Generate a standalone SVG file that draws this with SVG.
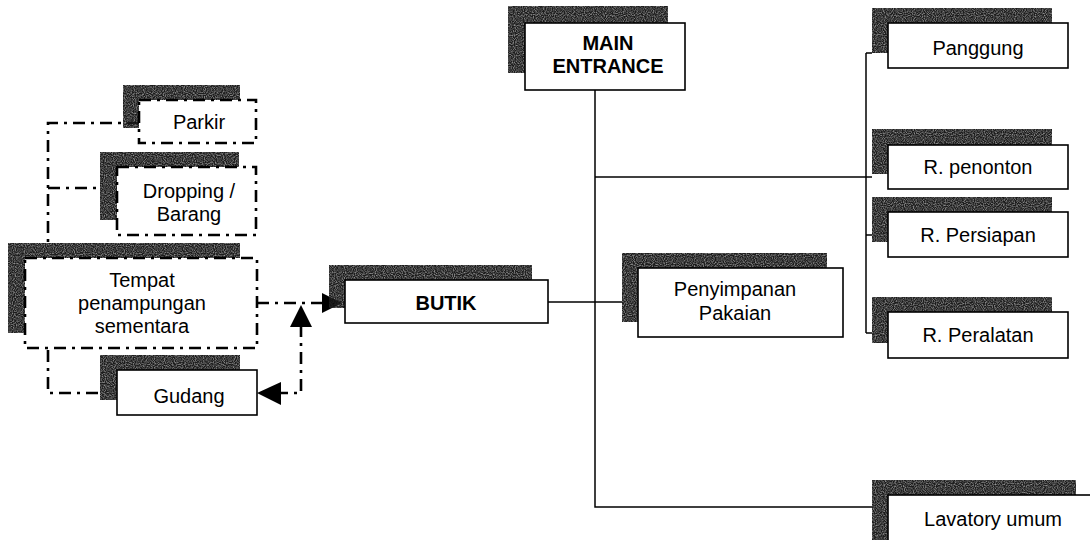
<svg xmlns="http://www.w3.org/2000/svg" width="1090" height="540" viewBox="0 0 1090 540">
<defs>
<filter id="grain" x="0" y="0" width="100%" height="100%">
<feTurbulence type="fractalNoise" baseFrequency="0.9" numOctaves="1" seed="3" result="n"/>
<feColorMatrix in="n" type="matrix" values="0 0 0 0 0  0 0 0 0 0  0 0 0 0 0  0 0 0 -1.2 1.45" result="a"/>
<feComposite in="SourceGraphic" in2="a" operator="in"/>
</filter>
</defs>
<style>
.sh{fill:#1c1c1c;filter:url(#grain)}
.bx{fill:#fff;stroke:#000;stroke-width:1.6}
.dbx{fill:#fff;stroke:#000;stroke-width:2.6;stroke-dasharray:12 6 3 6}
.t{font-family:"Liberation Sans",Arial,sans-serif;font-size:20px;fill:#000;text-anchor:middle}
.b{font-weight:bold}
.ln{fill:none;stroke:#000;stroke-width:1.5}
.dl{fill:none;stroke:#000;stroke-width:2.6;stroke-dasharray:12 6 3 6}
.ah{fill:#000}
</style>
<g id="connectors">
<path class="dl" d="M139,123 H48 V245"/>
<path class="dl" d="M48,188 H100"/>
<path class="dl" d="M48,350 V393 H100"/>
<path class="dl" d="M257,303 H322"/>
<path class="dl" d="M301,325 V393 H279"/>
<polygon class="ah" points="322,293 342,303 322,313"/>
<polygon class="ah" points="301,305 312,327 290,327"/>
<polygon class="ah" points="257,393 281,382 281,405"/>
<path class="ln" d="M548,302 H622"/>
<path class="ln" d="M595,90 V507 H872"/>
<path class="ln" d="M595,177 H872"/>
<path class="ln" d="M866,53 V333"/>
<path class="ln" d="M866,53 H872 M866,235 H872 M866,333 H872"/>
</g>
<g id="parkir">
<rect class="sh" x="123" y="85" width="117" height="43"/>
<rect class="dbx" x="139" y="100" width="117" height="43"/>
<text class="t" x="199" y="129">Parkir</text>
</g>
<g id="dropping">
<rect class="sh" x="100" y="152" width="139" height="68"/>
<rect class="dbx" x="117" y="167" width="139" height="68"/>
<text class="t" x="189" y="198">Dropping /</text>
<text class="t" x="189" y="221">Barang</text>
</g>
<g id="tempat">
<rect class="sh" x="8" y="243" width="232" height="90"/>
<rect class="dbx" x="25" y="258" width="232" height="90"/>
<text class="t" x="142" y="287">Tempat</text>
<text class="t" x="142" y="310">penampungan</text>
<text class="t" x="142" y="333">sementara</text>
</g>
<g id="gudang">
<rect class="sh" x="100" y="355" width="140" height="45"/>
<rect class="bx" x="117" y="370" width="140" height="45"/>
<text class="t" x="189" y="403">Gudang</text>
</g>
<g id="butik">
<rect class="sh" x="329" y="265" width="203" height="43"/>
<rect class="bx" x="345" y="280" width="203" height="43"/>
<text class="t b" x="446" y="310">BUTIK</text>
</g>
<g id="main-entrance">
<rect class="sh" x="508" y="6" width="160" height="67"/>
<rect class="bx" x="525" y="23" width="160" height="67"/>
<text class="t b" x="608" y="50">MAIN</text>
<text class="t b" x="608" y="73">ENTRANCE</text>
</g>
<g id="penyimpanan">
<rect class="sh" x="622" y="253" width="205" height="69"/>
<rect class="bx" x="638" y="268" width="205" height="69"/>
<text class="t" x="735" y="296">Penyimpanan</text>
<text class="t" x="735" y="320">Pakaian</text>
</g>
<g id="panggung">
<rect class="sh" x="872" y="8" width="180" height="45"/>
<rect class="bx" x="888" y="23" width="180" height="45"/>
<text class="t" x="978" y="55">Panggung</text>
</g>
<g id="penonton">
<rect class="sh" x="872" y="129" width="180" height="45"/>
<rect class="bx" x="888" y="145" width="180" height="44"/>
<text class="t" x="978" y="174">R. penonton</text>
</g>
<g id="persiapan">
<rect class="sh" x="872" y="197" width="180" height="45"/>
<rect class="bx" x="888" y="212" width="180" height="45"/>
<text class="t" x="978" y="242">R. Persiapan</text>
</g>
<g id="peralatan">
<rect class="sh" x="872" y="297" width="180" height="46"/>
<rect class="bx" x="888" y="312" width="180" height="46"/>
<text class="t" x="978" y="342">R. Peralatan</text>
</g>
<g id="lavatory">
<rect class="sh" x="872" y="480" width="204" height="60"/>
<rect class="bx" x="888" y="495" width="204" height="60"/>
<text class="t" x="993" y="526">Lavatory umum</text>
</g>
</svg>
